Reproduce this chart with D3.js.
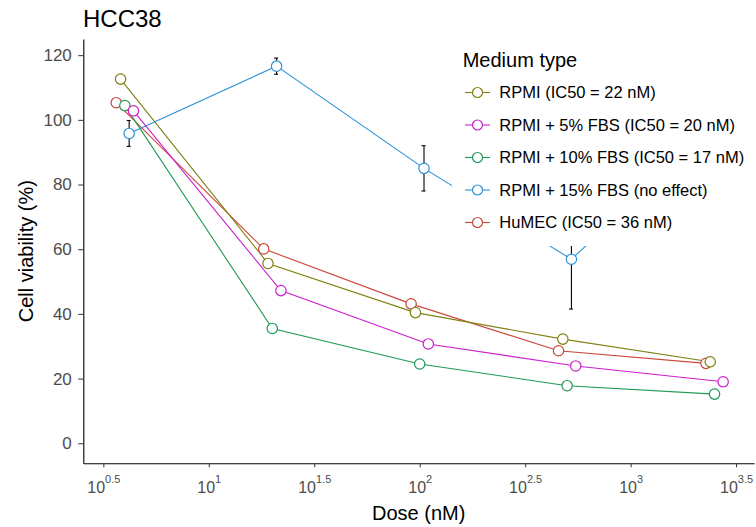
<!DOCTYPE html>
<html>
<head>
<meta charset="utf-8">
<style>
  body { margin: 0; background: #fff; }
  svg text { font-family: "Liberation Sans", Arial, sans-serif; }
</style>
</head>
<body>
<svg id="chart" width="756" height="527"></svg>
<script src="https://d3js.org/d3.v7.min.js"></script>
<script>
// doses (nM), 5-fold dilutions
const doses = [4, 20, 100, 500, 2500];

// factor order (alphabetical) -> used for dodge and draw order
const media = ["HuMEC", "RPMI", "RPMI + 10% FBS", "RPMI + 15% FBS", "RPMI + 5% FBS"];

// legend order and labels
const legendOrder = ["RPMI", "RPMI + 5% FBS", "RPMI + 10% FBS", "RPMI + 15% FBS", "HuMEC"];
const legendLabels = ["RPMI (IC50 = 22 nM)", "RPMI + 5% FBS (IC50 = 20 nM)",
                      "RPMI + 10% FBS (IC50 = 17 nM)", "RPMI + 15% FBS (no effect)",
                      "HuMEC (IC50 = 36 nM)"];

// mean cell viability (%)
const viabHuMEC = [105.3, 60.1, 43.1, 28.6, 24.7];
const viabRPMI  = [112.6, 55.6, 40.4, 32.2, 25.2];
const viabFBS10 = [104.4, 35.5, 24.5, 17.8, 15.2];
const viabFBS15 = [95.8, 116.6, 85.0, 56.9, 99.3];
const viabFBS5  = [102.8, 47.2, 30.7, 23.9, 19.0];

// standard deviations
const sdHuMEC = [1.2, 1.0, 1.0, 1.0, 0.8];
const sdRPMI  = [1.2, 1.0, 1.0, 0.8, 0.8];
const sdFBS10 = [1.0, 1.0, 0.8, 0.8, 0.8];
const sdFBS15 = [4.0, 2.5, 7.0, 15.4, 5.0];
const sdFBS5  = [1.2, 1.0, 1.0, 0.8, 0.8];

const yTicks = [0, 20, 40, 60, 80, 100, 120];
const xTickExps = ["0.5", "1", "1.5", "2", "2.5", "3", "3.5"];

const colors = {
  "HuMEC": "#c9483a",
  "RPMI": "#808014",
  "RPMI + 10% FBS": "#1f9a57",
  "RPMI + 15% FBS": "#2b92d6",
  "RPMI + 5% FBS": "#cc1fcc"
};

const values = [viabHuMEC, viabRPMI, viabFBS10, viabFBS15, viabFBS5];
const sds = [sdHuMEC, sdRPMI, sdFBS10, sdFBS15, sdFBS5];

const series = media.map((m, i) => ({
  name: m,
  idx: i,
  points: doses.map((d, j) => ({dose: d, v: values[i][j], sd: sds[i][j], idx: i}))
}));

const svg = d3.select('#chart');
const margin = {top: 39, right: 2, bottom: 63.7, left: 83.3};
const W = +svg.attr('width'), H = +svg.attr('height');
const innerW = W - margin.left - margin.right;
const innerH = H - margin.top - margin.bottom;

const x = d3.scaleLog()
  .domain([Math.pow(10, 0.405), Math.pow(10, 3.585)])
  .range([0, innerW]);
const y = d3.scaleLinear()
  .domain([-6.2, 125])
  .range([innerH, 0]);

// dodge in log10 units
const dodge = 0.0204;
const xd = p => x(p.dose * Math.pow(10, (p.idx - 2) * dodge));

const g = svg.append('g').attr('transform', `translate(${margin.left},${margin.top})`);

// axes
const yAxis = g.append('g')
  .call(d3.axisLeft(y).tickValues(yTicks).tickSize(5).tickSizeOuter(0).tickPadding(6.5));
yAxis.select('.domain').attr('stroke', '#000').attr('stroke-width', 1.1);
yAxis.selectAll('.tick line').attr('stroke', '#333');
yAxis.selectAll('.tick text').attr('fill', '#4d4d4d').attr('font-size', 17)
  .style('font-family', '"Liberation Sans", Arial, sans-serif');

const xAxis = g.append('g')
  .attr('transform', `translate(0,${innerH})`)
  .call(d3.axisBottom(x).tickValues(xTickExps.map(e => Math.pow(10, +e)))
    .tickSize(4).tickSizeOuter(0).tickFormat(() => ''));
xAxis.select('.domain').attr('stroke', '#000').attr('stroke-width', 1.1);
xAxis.selectAll('.tick line').attr('stroke', '#333');
xAxis.selectAll('.tick text').remove();
xAxis.selectAll('.tick').each(function(d, i) {
  const t = d3.select(this).append('text')
    .attr('y', 30)
    .attr('text-anchor', 'middle')
    .attr('fill', '#4d4d4d');
  t.append('tspan').attr('font-size', 16).text('10');
  t.append('tspan').attr('font-size', 11).attr('dy', -10).text(xTickExps[i]);
});

// lines
const line = d3.line().x(xd).y(p => y(p.v));
g.append('g').selectAll('path')
  .data(series)
  .join('path')
  .attr('d', s => line(s.points))
  .attr('fill', 'none')
  .attr('stroke', s => colors[s.name])
  .attr('stroke-width', 1.1);

// error bars
const eb = g.append('g').selectAll('g')
  .data(series.flatMap(s => s.points))
  .join('g')
  .attr('stroke', '#000')
  .attr('stroke-width', 1.1);
eb.append('line')
  .attr('x1', xd).attr('x2', xd)
  .attr('y1', p => y(p.v - p.sd)).attr('y2', p => y(p.v + p.sd));
eb.append('line')
  .attr('x1', p => xd(p) - 2.5).attr('x2', p => xd(p) + 1.5)
  .attr('y1', p => y(p.v + p.sd)).attr('y2', p => y(p.v + p.sd));
eb.append('line')
  .attr('x1', p => xd(p) - 2.5).attr('x2', p => xd(p) + 1.5)
  .attr('y1', p => y(p.v - p.sd)).attr('y2', p => y(p.v - p.sd));

// points
g.append('g').selectAll('g')
  .data(series)
  .join('g')
  .attr('stroke', s => colors[s.name])
  .selectAll('circle')
  .data(s => s.points)
  .join('circle')
  .attr('cx', xd)
  .attr('cy', p => y(p.v))
  .attr('r', 5.2)
  .attr('fill', '#fff')
  .attr('stroke-width', 1.2);

// legend (inside panel, white background)
const lg = svg.append('g').attr('transform', 'translate(452,38)');
lg.append('rect').attr('width', 304).attr('height', 208).attr('fill', '#fff');
lg.append('text')
  .attr('x', 10.7).attr('y', 29)
  .attr('font-size', 20).attr('fill', '#000')
  .text('Medium type');
const items = lg.selectAll('.item')
  .data(legendOrder)
  .join('g')
  .attr('class', 'item')
  .attr('transform', (d, i) => `translate(0,${54.5 + i * 32.5})`);
items.append('line')
  .attr('x1', 13).attr('x2', 38)
  .attr('stroke', d => colors[d]).attr('stroke-width', 1.1);
items.append('circle')
  .attr('cx', 25.5).attr('r', 5)
  .attr('fill', '#fff').attr('stroke', d => colors[d]).attr('stroke-width', 1.2);
items.append('text')
  .attr('x', 47.3).attr('dy', '0.36em')
  .attr('font-size', 16.5).attr('fill', '#000')
  .text((d, i) => legendLabels[i]);

// titles
svg.append('text')
  .attr('x', 83).attr('y', 27)
  .attr('font-size', 24).attr('fill', '#000')
  .text('HCC38');
svg.append('text')
  .attr('x', margin.left + innerW / 2).attr('y', 520)
  .attr('text-anchor', 'middle')
  .attr('font-size', 20).attr('fill', '#000')
  .text('Dose (nM)');
svg.append('text')
  .attr('transform', `translate(32.5,${margin.top + innerH / 2}) rotate(-90)`)
  .attr('text-anchor', 'middle')
  .attr('font-size', 20).attr('fill', '#000')
  .text('Cell viability (%)');
</script>
</body>
</html>
